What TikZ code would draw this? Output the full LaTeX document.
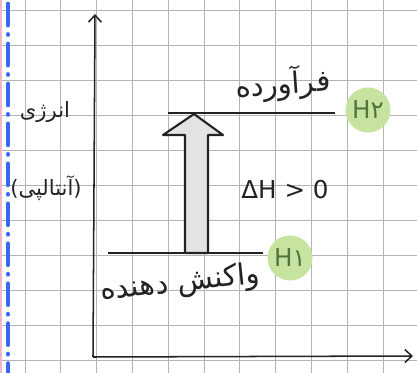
\documentclass[tikz,border=0pt]{standalone}
\usepackage{fontspec}
\newfontfamily\arabicfont[Script=Arabic]{DejaVu Sans}
\newfontfamily\plainfont{DejaVu Sans}
\TeXXeTstate=1
\usetikzlibrary{arrows.meta, calc}

\definecolor{gridgray}{RGB}{180,180,180}
\definecolor{marginblue}{RGB}{55,105,240}
\definecolor{marginpink}{RGB}{238,185,205}
\definecolor{hgreen}{RGB}{198,228,160}
\definecolor{htext}{RGB}{85,115,65}
\definecolor{ink}{RGB}{35,35,35}

\begin{document}
\begin{tikzpicture}[
	x=0.03cm, y=-0.03cm,
	gridline/.style={gridgray, line width=0.6pt},
	axis/.style={ink, line width=1.3pt, -{Straight Barb[length=6pt, width=11pt]}},
	level/.style={ink, line width=1.4pt},
	fatarrow/.style={ink, line width=1.8pt, fill=gray!22, line join=round},
	label/.style={ink, font=\arabicfont\fontsize{25}{27}\selectfont},
	sidelabel/.style={ink, font=\arabicfont\fontsize{18}{20}\selectfont},
	hmark/.style={circle, fill=hgreen, minimum size=1.35cm, inner sep=0pt, text=htext, font=\plainfont\fontsize{21}{23}\selectfont}
]
	\useasboundingbox (0,0) rectangle (417,373);
	\fill[white] (0,0) rectangle (417,373);

	% squared paper
	\foreach \i in {0,...,11}
		\draw[gridline] ({25+35.8*\i},0) -- ({25+35.8*\i},373);
	\foreach \j in {0,...,10}
		\draw[gridline] (0,{10+35*\j}) -- (417,{10+35*\j});
	\draw[marginpink, line width=1.2pt] (1,0) -- (1,373);
	\draw[marginblue, line width=4pt, line cap=round, dash pattern=on 18pt off 8pt on 0.1pt off 8pt] (8,4) -- (8,373);

	% axes
	\coordinate (origin) at (93,357);
	\coordinate (ytop) at (95,14);
	\coordinate (xend) at (413,356);
	\draw[axis] (origin) -- (ytop);
	\draw[axis] (origin) -- (xend);

	% enthalpy levels
	\coordinate (prodL) at (168,113);
	\coordinate (prodR) at (335,113);
	\coordinate (reacL) at (108,253);
	\coordinate (reacR) at (263,253);
	\draw[level] (prodL) -- (prodR);
	\draw[level] (reacL) -- (reacR);

	\node (h2) [hmark] at (368,110) {H۲};
	\node (h1) [hmark] at (290,258) {H۱};

	% upward enthalpy change
	\coordinate (low) at (196,253);
	\coordinate (top) at (194,114);
	\draw[fatarrow] ($(low)+(-11,0)$) -- ($(low)+(-11,-118)$) -- ($(low)+(-33,-118)$)
		-- (top) -- ($(low)+(27,-118)$) -- ($(low)+(12,-118)$) -- ($(low)+(12,0)$) -- cycle;

	\node (dH) [ink, font=\plainfont\fontsize{21}{23}\selectfont] at (285,190) {ΔH > 0};

	% labels
	\node (product) [label, rotate=4] at (283,84) {\beginR فرآورده\endR};
	\node (reactant) [label, rotate=6] at (180,284) {\beginR واکنش دهنده\endR};
	\node (energy) [sidelabel] at (45,112) {\beginR انرژی\endR};
	\node (enthalpy) [sidelabel] at (46,188) {\beginR (آنتالپی)\endR};
\end{tikzpicture}
\end{document}
